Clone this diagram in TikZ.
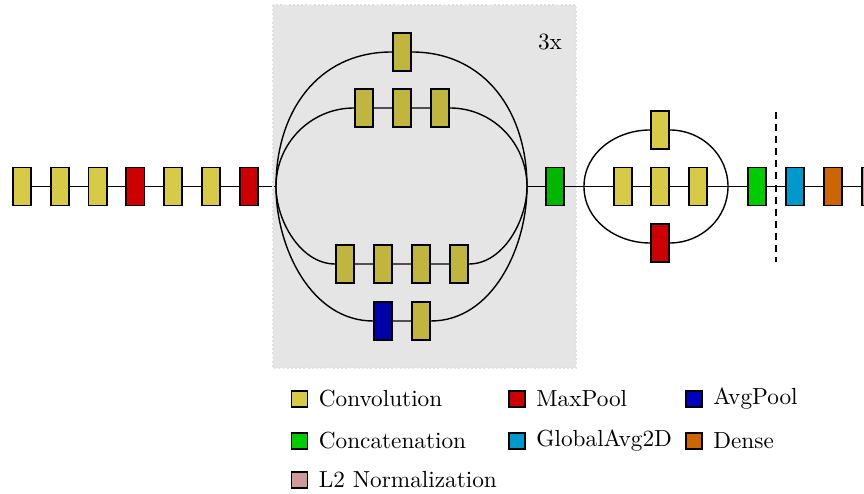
\documentclass[tikz,border=0pt]{standalone}
\usepackage{tikz}

\definecolor{convcol}{RGB}{214,202,70}
\definecolor{maxcol}{RGB}{204,0,0}
\definecolor{avgcol}{RGB}{0,0,192}
\definecolor{catcol}{RGB}{0,204,0}
\definecolor{gapcol}{RGB}{0,153,204}
\definecolor{densecol}{RGB}{204,102,0}
\definecolor{normcol}{RGB}{206,153,153}

\tikzset{
	layer/.style={draw=black, line width=0.75pt, minimum width=7.8pt, minimum height=16.3pt, inner sep=0pt},
	conv/.style={layer, fill=convcol},
	maxp/.style={layer, fill=maxcol},
	avgp/.style={layer, fill=avgcol},
	concat/.style={layer, fill=catcol},
	gap/.style={layer, fill=gapcol},
	dense/.style={layer, fill=densecol},
	ltwo/.style={layer, fill=normcol},
	legendbox/.style={draw=black, line width=0.75pt, minimum size=6.9pt, inner sep=0pt},
	legendtext/.style={anchor=west, inner sep=0pt, xshift=4.3pt},
	wire/.style={line width=0.6pt},
}

\begin{document}
\begin{tikzpicture}[x=0.43pt, y=0.43pt]
		%%%%% START %%%%%
		\path[use as bounding box, clip] (0, -307.5) rectangle (864, 186.5);
		
		% stem
		\node[conv] (c1) at (22, 0) {};
		\node[conv] (c2) at (59.8, 0) {};
		\node[conv] (c3) at (97.6, 0) {};
		\node[maxp] (p1) at (135.4, 0) {};
		\node[conv] (c4) at (173.2, 0) {};
		\node[conv] (c5) at (211, 0) {};
		\node[maxp] (p2) at (248.8, 0) {};
		\draw[wire] (c1) -- (c2) -- (c3) -- (p1) -- (c4) -- (c5) -- (p2);
		
		% inception block
		\coordinate (sa) at (276, 0);
		\coordinate (ma) at (527, 0);
		\draw[wire] (p2) -- (sa);
		
		\node[conv] (ta) at (401.7, 134.5) {};
		
		\node[conv] (ia1) at (364, 78.5) {};
		\node[conv] (ia2) at (402, 78.5) {};
		\node[conv] (ia3) at (440, 78.5) {};
		
		\node[conv] (ib1) at (345, -77.5) {};
		\node[conv] (ib2) at (383, -77.5) {};
		\node[conv] (ib3) at (421, -77.5) {};
		\node[conv] (ib4) at (459, -77.5) {};
		
		\node[avgp] (pa) at (383, -134.5) {};
		\node[conv] (pb) at (421, -134.5) {};
		
		\draw[wire, looseness=1.07] (sa) to[out=90, in=180] (ta) to[out=0, in=90] (ma);
		\draw[wire] (sa) to[out=90, in=180] (ia1) -- (ia2) -- (ia3) to[out=0, in=90] (ma);
		\draw[wire, looseness=0.9] (sa) to[out=-90, in=180] (ib1) -- (ib2) -- (ib3) -- (ib4) to[out=0, in=-90] (ma);
		\draw[wire, looseness=0.95] (sa) to[out=-90, in=180] (pa) -- (pb) to[out=0, in=-90] (ma);
		
		\node[concat] (ca) at (555, 0) {};
		\draw[wire] (ma) -- (ca);
		
		\fill[black, fill opacity=0.1] (273, 181.5) rectangle (576, -181.5);
		\draw[black!12, line width=0.8pt, densely dotted] (273, 181.5) rectangle (576, -181.5);
		\node (rep) at (550, 144.5) {3x};
		
		% second block
		\coordinate (sb) at (584, 0);
		\coordinate (mb) at (728, 0);
		\node[conv] (tb) at (660, 56.5) {};
		\node[conv] (rb1) at (622.7, 0) {};
		\node[conv] (rb2) at (660.3, 0) {};
		\node[conv] (rb3) at (698.3, 0) {};
		\node[maxp] (mp) at (660, -56.5) {};
		\draw[wire] (ca) -- (sb) -- (rb1) -- (rb2) -- (rb3) -- (mb);
		\draw[wire] (sb) to[out=90, in=180] (tb) to[out=0, in=90] (mb);
		\draw[wire] (sb) to[out=-90, in=180] (mp) to[out=0, in=-90] (mb);
		
		% head
		\node[concat] (cb) at (757, 0) {};
		\node[gap] (gp) at (795, 0) {};
		\node[dense] (fc) at (833, 0) {};
		\node[ltwo] (nm) at (871, 0) {};
		\draw[wire] (mb) -- (cb) -- (gp) -- (fc) -- (nm);
		
		\coordinate (cuttop) at (776, 74.5);
		\coordinate (cutbot) at (776, -75.5);
		\draw[line width=0.7pt, dash pattern=on 3pt off 2.2pt] (cuttop) -- (cutbot);
		
		% legend
		\node[legendbox, fill=convcol] (lg1) at (299.5, -212.5) {};
		\node[legendtext] at (lg1.east) {Convolution};
		\node[legendbox, fill=maxcol] (lg2) at (517, -212.5) {};
		\node[legendtext] at (lg2.east) {MaxPool};
		\node[legendbox, fill=avgcol] (lg3) at (694, -212.5) {};
		\node[legendtext] at (lg3.east) {AvgPool};
		
		\node[legendbox, fill=catcol] (lg4) at (299.5, -254.5) {};
		\node[legendtext] at (lg4.east) {Concatenation};
		\node[legendbox, fill=gapcol] (lg5) at (517, -254.5) {};
		\node[legendtext] at (lg5.east) {GlobalAvg2D};
		\node[legendbox, fill=densecol] (lg6) at (694, -254.5) {};
		\node[legendtext] at (lg6.east) {Dense};
		
		\node[legendbox, fill=normcol] (lg7) at (299.5, -293.5) {};
		\node[legendtext] at (lg7.east) {L2 Normalization};
		
		%%%%% END %%%%%
\end{tikzpicture}
\end{document}
